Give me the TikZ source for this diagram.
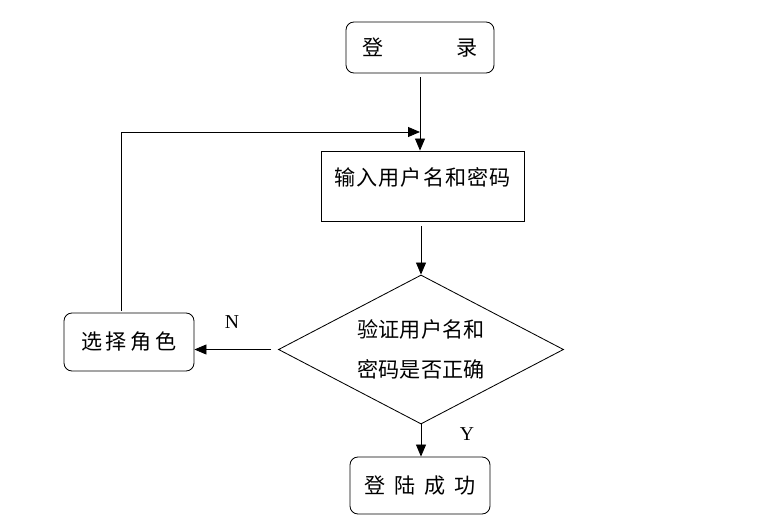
\documentclass[tikz,border=0pt]{standalone}
\usepackage{fontspec}
\setmainfont{Liberation Serif}
\newfontfamily\cjk{Noto Sans CJK SC}
\usetikzlibrary{arrows.meta,shapes.geometric}
\tikzset{
  rbox/.style={draw,rounded corners=0.2cm,line width=0.6pt,inner sep=0pt,
    font=\cjk\fontsize{15pt}{18pt}\selectfont},
  sbox/.style={draw,line width=0.6pt,inner sep=0pt,
    font=\cjk\fontsize{15pt}{18pt}\selectfont},
  decide/.style={draw,diamond,aspect=1.9,line width=0.6pt,inner sep=0pt,align=center,
    font=\cjk\fontsize{15pt}{28.45pt}\selectfont},
  arrow/.style={line width=0.6pt,-{Triangle[length=0.3cm,width=0.25cm]}},
}
\begin{document}
\begin{tikzpicture}[x=0.025cm,y=-0.025cm]
  \useasboundingbox (0,0) rectangle (780,524);

  % boxes, at pixel positions of the chart
  \node[rbox,minimum width=3.7cm,minimum height=1.275cm] (login) at (420,47.5) {登\hspace{1.8cm}录};
  \node[sbox,minimum width=5.075cm,minimum height=1.75cm,text height=0.45cm,text depth=0.45cm] (input) at (422.5,186)
    {\addfontfeature{LetterSpace=5}输入用户名和密码};
  \node[decide,minimum width=7.125cm,minimum height=3.725cm] (check) at (421,349.5)
    {验证用户名和\\密码是否正确};
  \node[rbox,minimum width=3.25cm,minimum height=1.45cm] (role) at (129,342)
    {\addfontfeature{LetterSpace=18}选择角色};
  \node[rbox,minimum width=3.5cm,minimum height=1.425cm] (success) at (420,485.5)
    {\addfontfeature{LetterSpace=41}登陆成功};
  \coordinate (join) at (420,132);

  \draw[arrow,shorten <=0.1cm] (login.south) -- (login.south |- input.north);
  \draw[arrow,shorten <=0.125cm] (check.north |- input.south) -- (check.north);
  \draw[arrow,shorten <=0.175cm] (check.west) -- (check.west -| role.east);
  \draw[arrow] (check.south) -- (check.south |- success.north);
  \draw[arrow,shorten <=0.05cm] ([xshift=-0.2cm]role.north) |- (join);

  \node[font=\fontsize{14pt}{17pt}\selectfont] (no) at (232,322) {N};
  \node[font=\fontsize{14pt}{17pt}\selectfont] (yes) at (467,434) {Y};
\end{tikzpicture}
\end{document}
